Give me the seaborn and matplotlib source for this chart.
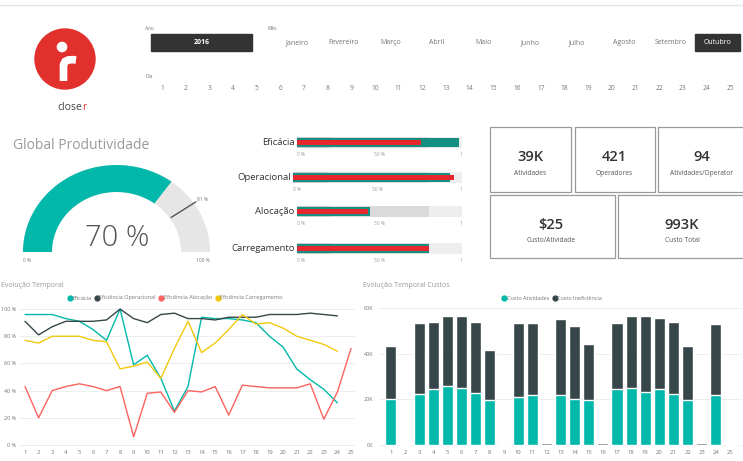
import numpy as np
import pandas as pd
import matplotlib
matplotlib.use("Agg")
import matplotlib.pyplot as plt
import seaborn as sns
from matplotlib.patches import Rectangle, Circle, Polygon, PathPatch
from matplotlib.path import Path
from matplotlib.lines import Line2D

sns.set_theme(style="white")
plt.rcParams['font.family'] = ['Open Sans', 'DejaVu Sans']

# ---------------- data ----------------
anos = ["2016"]
meses = ["Janeiro", "Fevereiro", "Março", "Abril", "Maio", "Junho",
         "Julho", "Agosto", "Setembro", "Outubro"]
mes_selecionado = "Outubro"
dias = list(range(1, 26))

gauge_valor = 70
gauge_meta = 81
gauge_min, gauge_max = 0, 100

bullet_labels = ["Eficácia", "Operacional", "Alocação", "Carregamento"]
bullet_teal = [98, 93, 44, 80]
bullet_red = [75, 95, 43, 80]
bullet_bands = [20, 80, 100]

kpi_valores = ["39K", "421", "94", "$25", "993K"]
kpi_rotulos = ["Atividades", "Operadores", "Atividades/Operator",
               "Custo/Atividade", "Custo Total"]

serie_nomes = ["Eficácia", "Eficiência Operacional", "Eficiência Alocação",
               "Eficiência Carregamento"]
eficacia = [96, 96, 96, 93, 91, 85, 77, 100, 59, 66, 49, 25, 43, 94, 93, 93,
            92, 90, 80, 72, 56, 48, 41, 31, np.nan]
ef_operacional = [91, 81, 87, 91, 91, 91, 92, 100, 93, 90, 96, 97, 93, 93, 92,
                  94, 94, 94, 96, 96, 96, 97, 96, 95, np.nan]
ef_alocacao = [43, 20, 40, 43, 45, 43, 40, 43, 6, 38, 39, 24, 40, 39, 43, 22,
               44, 43, 42, 42, 42, 45, 19, 39, 71]
ef_carregamento = [77, 75, 80, 80, 80, 77, 76, 56, 58, 61, 49, 71, 91, 68, 75,
                   85, 96, 89, 90, 86, 80, 77, 74, 69, np.nan]

custo_nomes = ["Custo Atividades", "Custo Ineficiência"]
custo_atividades = [20.1, 0, 22.3, 24.7, 25.7, 25.0, 22.9, 19.6, 0, 20.9, 22.1,
                    0, 22.1, 20.1, 19.8, 0, 24.3, 25.0, 23.2, 24.3, 22.3, 19.8,
                    0, 21.8, 0]
custo_total = [43.4, 0.4, 53.2, 53.7, 56.6, 56.5, 54.0, 41.6, 0.4, 53.2, 53.2,
               0.8, 55.0, 52.0, 44.2, 0.8, 53.2, 56.5, 56.5, 55.7, 53.7, 43.4,
               0.8, 52.9, 0]

# ---------------- colours ----------------
TEAL = "#01B8AA"
DARK = "#374649"
RED = "#FD625E"
YELLOW = "#F2C80F"
LINE_COLORS = [TEAL, DARK, RED, YELLOW]
BULLET_TEAL = "#148F82"
BULLET_RED = "#E8262D"
LOGO_RED = "#E2302D"

W, H = 743, 461
fig = plt.figure(figsize=(W / 100, H / 100), dpi=100)
fig.patch.set_facecolor("white")


def px_axes(x, y, w, h):
    return fig.add_axes([x / W, 1 - (y + h) / H, w / W, h / H])


canvas = px_axes(0, 0, W, H)
canvas.set_xlim(0, W)
canvas.set_ylim(H, 0)
canvas.axis("off")

canvas.axhline(5, color="#E4E4E4", lw=1)

# ---------------- logo ----------------
canvas.add_patch(Circle((65, 59), 30, color=LOGO_RED))
canvas.add_patch(Circle((62, 47), 4.6, color="white"))
r_path = Path([(63.5, 81), (63.5, 66), (63.5, 58), (76, 60)],
              [Path.MOVETO, Path.LINETO, Path.CURVE3, Path.CURVE3])
canvas.add_patch(PathPatch(r_path, fill=False, edgecolor="white", lw=5.5,
                           capstyle="butt"))
canvas.text(82, 107, "close", ha="right", va="center", fontsize=7.5, color="#444")
canvas.text(82.5, 107, "r", ha="left", va="center", fontsize=7.5, color=LOGO_RED)

# ---------------- slicers ----------------
canvas.text(145, 29, "Ano", fontsize=3.5, color="#777", va="center")
canvas.add_patch(Rectangle((151, 34), 101, 17, color="#333333"))
canvas.text(201.5, 43, anos[0], color="white", fontsize=5, ha="center",
            va="center", fontweight="bold")
canvas.text(268, 29, "Mês", fontsize=3.5, color="#777", va="center")
for i, m in enumerate(meses):
    x = 297 + i * 46.7
    if m == mes_selecionado:
        canvas.add_patch(Rectangle((x - 22.5, 34), 45, 17, color="#333333"))
        canvas.text(x, 43, m, color="white", fontsize=5, ha="center", va="center")
    else:
        canvas.text(x, 43, m, color="#777", fontsize=5, ha="center", va="center")
canvas.text(145, 77, "Dia", fontsize=3.5, color="#777", va="center")
for i, d in enumerate(dias):
    canvas.text(162 + i * 23.67, 88, str(d), color="#777", fontsize=4.8,
                ha="center", va="center")

# ---------------- gauge ----------------
canvas.text(13, 145, "Global Produtividade", fontsize=10, color="#9A9A9A",
            va="center")
gax = px_axes(16.5, 154, 200, 110)
gax.set_xlim(-100, 100)
gax.set_ylim(-12, 98)
gax.axis("off")
RX_O, RX_I, SY = 93.5, 64.5, 0.93


def arc_poly(f0, f1):
    th = np.linspace(np.pi * (1 - f0), np.pi * (1 - f1), 100)
    outer = np.column_stack([RX_O * np.cos(th), RX_O * SY * np.sin(th)])
    inner = np.column_stack([RX_I * np.cos(th), RX_I * SY * np.sin(th)])[::-1]
    return np.vstack([outer, inner])


span = gauge_max - gauge_min
gax.add_patch(Polygon(arc_poly(0, 1), closed=True, color="#E6E6E6", lw=0))
gax.add_patch(Polygon(arc_poly(0, (gauge_valor - gauge_min) / span), closed=True,
                      color=TEAL, lw=0))
thm = np.pi * (1 - (gauge_meta - gauge_min) / span)
gax.plot([66 * np.cos(thm), 96 * np.cos(thm)],
         [66 * SY * np.sin(thm), 96 * SY * np.sin(thm)], color="#555", lw=1)
gax.text(97 * np.cos(thm), 97 * SY * np.sin(thm) + 2, f"{gauge_meta} %",
         fontsize=3.5, color="#777", ha="left", va="center")
gax.text(-RX_O, -8, f"{gauge_min} %", fontsize=3.5, color="#777", ha="left",
         va="center")
gax.text(RX_O, -8, f"{gauge_max} %", fontsize=3.5, color="#777", ha="right",
         va="center")
gax.text(0.5, 14, f"{gauge_valor} %", fontsize=21, color="#555", ha="center",
         va="center", fontweight="light")

# ---------------- bullet charts ----------------
bullet_pos = [(297, 137), (293, 172), (297, 206), (297, 243)]
band_colors = ["#C9C9C9", "#DADADA", "#EEEEEE"]
for lab, tv, rv, (x0, top) in zip(bullet_labels, bullet_teal, bullet_red,
                                  bullet_pos):
    bx = px_axes(x0, top, 462 - x0, 11)
    bx.set_xlim(0, 100)
    bx.set_ylim(0, 1)
    left = 0
    for b, c in zip(bullet_bands, band_colors):
        bx.barh(0.5, b - left, left=left, height=1, color=c, lw=0)
        left = b
    bx.barh(0.5, tv, height=0.85, color=BULLET_TEAL, lw=0)
    bx.barh(0.5, rv, height=0.45, color=BULLET_RED, lw=0)
    for s in bx.spines.values():
        s.set_visible(False)
    bx.set_yticks([])
    bx.set_xticks([0, 50, 100])
    bx.set_xticklabels(["0 %", "50 %", "1"], fontsize=3.5, color="#999")
    bx.get_xticklabels()[0].set_ha("left")
    bx.get_xticklabels()[2].set_ha("right")
    bx.tick_params(axis="x", length=0, pad=3)
    canvas.text(x0 - 2.5, top + 5.5, lab, ha="right", va="center",
                fontsize=6.8, color="#333")

# ---------------- KPI cards ----------------
cards = [(490, 127, 81, 65), (575, 127, 80, 65), (658, 127, 95, 65),
         (490, 195, 125, 63), (618, 195, 135, 63)]
centers = [(530, 157, 173), (614, 157, 173), (702, 157, 173),
           (551, 225, 240), (682, 225, 240)]
for (x, y, w, h), (cx, vy, ly), v, l in zip(cards, centers, kpi_valores,
                                            kpi_rotulos):
    canvas.add_patch(Rectangle((x, y), w, h, fill=False, edgecolor="#9A9A9A",
                               lw=0.9))
    canvas.text(cx, vy, v, ha="center", va="center", fontsize=10.5,
                color="#333", fontweight="semibold")
    canvas.text(cx, ly, l, ha="center", va="center", fontsize=4.8, color="#555")

# ---------------- line chart ----------------
canvas.text(1, 285, "Evolução Temporal", fontsize=5, color="#999", va="center")
lax = px_axes(20, 305, 335, 142)
df_lines = pd.DataFrame({
    "Dia": dias * 4,
    "Série": sum([[n] * len(dias) for n in serie_nomes], []),
    "Valor": eficacia + ef_operacional + ef_alocacao + ef_carregamento,
}).dropna()
sns.lineplot(data=df_lines, x="Dia", y="Valor", hue="Série",
             hue_order=serie_nomes, palette=LINE_COLORS, ax=lax, legend=False,
             lw=1, errorbar=None)
lax.set_xlim(1 - 5 / 13.58, 25 + 4 / 13.58)
lax.set_ylim(-1.5, 103)
lax.set_yticks(range(0, 101, 20))
lax.set_yticklabels([f"{v} %" for v in range(0, 101, 20)], fontsize=4,
                    color="#777")
lax.set_xticks(dias)
lax.set_xticklabels([str(d) for d in dias], fontsize=4.2, color="#777")
lax.tick_params(length=0, pad=2)
lax.tick_params(axis="y", pad=3)
lax.grid(axis="y", color="#EBEBEB", lw=0.6)
lax.set_xlabel("")
lax.set_ylabel("")
for s in lax.spines.values():
    s.set_visible(False)
handles = [Line2D([], [], marker="o", ls="", color=c, markersize=3.5)
           for c in LINE_COLORS]
fig.legend(handles, serie_nomes, loc="center", bbox_to_anchor=(175 / W, 1 - 298 / H),
           ncol=4, fontsize=4, frameon=False, handletextpad=0.05,
           columnspacing=0.6, labelcolor="#777", handlelength=0.8)

# ---------------- bar chart ----------------
canvas.text(363, 285, "Evolução Temporal Custos", fontsize=5, color="#999",
            va="center")
bax = px_axes(379, 305, 363, 142)
dia_str = [str(d) for d in dias]
df_bar = pd.DataFrame({"Dia": dia_str, "Total": custo_total,
                       "Atividades": custo_atividades})
sns.barplot(data=df_bar, x="Dia", y="Total", order=dia_str, color=DARK,
            saturation=1, width=0.78, ax=bax, errorbar=None)
sns.barplot(data=df_bar, x="Dia", y="Atividades", order=dia_str, color=TEAL,
            saturation=1, width=0.78, ax=bax, errorbar=None)
bax.set_xlim(-12 / 14.14, 24 + 12 / 14.14)
bax.set_ylim(-0.88, 61.3)
bax.set_yticks([0, 20, 40, 60])
bax.set_yticklabels(["0K", "20K", "40K", "60K"], fontsize=4, color="#777")
bax.set_xticklabels(dia_str, fontsize=4.2, color="#777")
bax.tick_params(length=0, pad=2)
bax.tick_params(axis="y", pad=4)
bax.grid(axis="y", color="#EBEBEB", lw=0.6)
bax.set_axisbelow(True)
bax.set_xlabel("")
bax.set_ylabel("")
for s in bax.spines.values():
    s.set_visible(False)
handles2 = [Line2D([], [], marker="o", ls="", color=c, markersize=3.5)
            for c in [TEAL, DARK]]
fig.legend(handles2, custo_nomes, loc="center", bbox_to_anchor=(552 / W, 1 - 298 / H),
           ncol=2, fontsize=4, frameon=False, handletextpad=0.05,
           columnspacing=0.6, labelcolor="#777", handlelength=0.8)

fig.savefig("out.png", dpi=100, facecolor="white")
